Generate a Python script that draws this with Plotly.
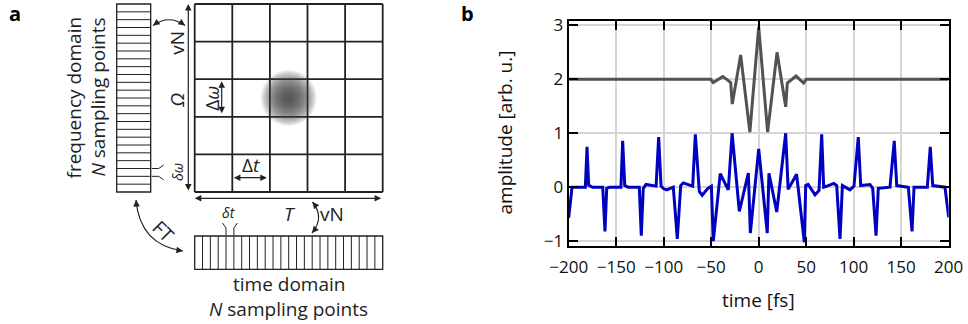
import numpy as np
import plotly.graph_objects as go

# ---------------- data for panel b ----------------
# reference pulse (offset by +2)
pulse_t = [-200, -50.5, -47.8, -37.9, -33.0, -29.5, -27.8, -19.0, -9.3, 0.0,
           9.4, 19.3, 28.4, 30.1, 39.3, 47.3, 50.0, 200]
pulse_amp = [2.0, 2.0, 1.94, 2.05, 1.99, 1.94, 1.54, 2.45, 1.02, 2.97,
             1.02, 2.50, 1.49, 1.93, 2.06, 1.93, 2.0, 2.0]

# aliased signal
aliased_t = [-200, -196.5, -182.5, -180.7, -179.0, -175.0, -164.2, -161.8, -160.0, -157.0,
             -145.0, -143.2, -141.0, -137.5, -125.7, -123.6, -121.5, -118.6, -108.0, -105.3,
             -102.8, -100.0, -96.8, -89.9, -85.7, -82.1, -79.4, -75.0, -69.5, -66.7,
             -62.5, -59.5, -53.5, -49.8, -47.8, -40.5, -32.0, -28.0, -20.4, -10.9,
             -8.8, 0.0, 9.0, 10.8, 19.0, 28.4, 31.0, 39.9, 48.0, 49.5,
             52.0, 59.3, 63.5, 66.3, 68.4, 73.3, 79.0, 82.1, 85.6, 88.1,
             96.1, 100.3, 104.8, 107.4, 117.2, 120.0, 123.5, 125.9, 138.2, 142.7,
             145.3, 157.5, 161.4, 163.5, 177.5, 180.6, 183.2, 196.1, 200]
aliased_amp = [-0.57, 0.0, 0.0, 0.75, 0.04, 0.0, 0.0, -0.82, -0.02, 0.0,
               0.0, 0.86, 0.03, 0.0, 0.0, -0.90, -0.02, 0.05, 0.02, 0.93,
               0.02, -0.03, -0.05, 0.0, -0.96, 0.03, 0.08, 0.05, 0.02, 0.98,
               -0.08, -0.15, -0.02, 0.02, -1.0, 0.25, -0.05, 1.0, -0.45, 0.26,
               -0.85, 0.71, -0.85, 0.26, -0.46, 1.0, -0.04, 0.24, -1.02, 0.03,
               0.05, -0.14, -0.06, 0.98, 0.0, 0.03, 0.07, 0.03, -0.96, 0.03,
               -0.05, 0.02, 0.93, 0.03, 0.05, -0.02, -0.90, -0.02, 0.0, 0.86,
               0.03, 0.0, -0.82, 0.0, 0.0, 0.75, 0.03, 0.0, -0.56]

x_ticks = [-200, -150, -100, -50, 0, 50, 100, 150, 200]
y_ticks = [-1, 0, 1, 2, 3]

# ---------------- page geometry ----------------
W, H = 968, 324
FONT = "Open Sans"
INK = "#222222"


def px(x):
    return x / W


def py(y):
    return 1 - y / H


fig = go.Figure()

fig.add_trace(go.Scatter(x=aliased_t, y=aliased_amp, mode="lines",
                         line=dict(color="#0000c0", width=3), xaxis="x", yaxis="y",
                         hoverinfo="skip", showlegend=False))
fig.add_trace(go.Scatter(x=pulse_t, y=pulse_amp, mode="lines",
                         line=dict(color="#525252", width=3), xaxis="x", yaxis="y",
                         hoverinfo="skip", showlegend=False))

axis_common = dict(showline=True, linecolor="black", linewidth=2, mirror="ticks",
                   ticks="inside", ticklen=9, tickwidth=1.5, tickcolor="black",
                   showgrid=True, gridcolor="#d6d6d6", gridwidth=1.5, zeroline=False,
                   automargin=False,
                   tickfont=dict(family=FONT, size=17, color="#111111"), fixedrange=True)

fig.update_layout(
    width=W, height=H, margin=dict(l=0, r=0, t=0, b=0, pad=0, autoexpand=False),
    autosize=False,
    paper_bgcolor="white", plot_bgcolor="rgba(0,0,0,0)",
    xaxis=dict(domain=[px(568.7), px(948.7)], range=[-200, 200], tickvals=x_ticks,
               anchor="y", ticklabelstandoff=5, **axis_common),
    yaxis=dict(domain=[py(246), py(20.5)], range=[-1.09, 3.09], tickvals=y_ticks,
               anchor="x", **axis_common),
    # schematic canvas for panel a, in page pixel units
    xaxis2=dict(domain=[0, px(460)], range=[0, 460], visible=False, fixedrange=True,
                automargin=False, anchor="y2"),
    yaxis2=dict(domain=[0, 1], range=[H, 0], visible=False, fixedrange=True,
                automargin=False, anchor="x2"),
)


def page_text(text, x, y, size, angle=0, color="#111111"):
    fig.add_annotation(text=text, x=px(x), y=py(y), xref="paper", yref="paper",
                       xanchor="center", yanchor="middle", showarrow=False,
                       textangle=angle, font=dict(family=FONT, size=size, color=color))


# axis titles and panel letters
page_text("time [fs]", 758.7, 300, 19)
page_text("amplitude [arb. u.]", 505, 132.5, 19, angle=-90)
page_text("<b>a</b>", 15, 14, 20, color="black")
page_text("<b>b</b>", 467, 14, 20, color="black")

# ---------------- panel a schematic ----------------
GRID_X0, GRID_Y0 = 194.7, 4.0
CELL = 37.6
N_CELLS = 5
GRID_X1 = GRID_X0 + N_CELLS * CELL
GRID_Y1 = GRID_Y0 + N_CELLS * CELL
N_STRIPES = 24
FREQ_X0, FREQ_X1 = 116.7, 150.7
TIME_Y0, TIME_Y1 = 236.0, 269.3
STRIPE_F = (GRID_Y1 - GRID_Y0) / N_STRIPES
STRIPE_T = (GRID_X1 - GRID_X0) / N_STRIPES


def seg(x0, y0, x1, y1, width=1.0, color=INK):
    fig.add_shape(type="line", x0=x0, y0=y0, x1=x1, y1=y1, xref="x2", yref="y2",
                  line=dict(color=color, width=width))


def path(d, width=1.2, color=INK):
    fig.add_shape(type="path", path=d, xref="x2", yref="y2",
                  line=dict(color=color, width=width))


def arrow(x, y, ax, ay, both=False):
    fig.add_annotation(x=x, y=y, ax=ax, ay=ay, xref="x2", yref="y2", axref="x2",
                       ayref="y2", text="", showarrow=True, arrowhead=2, arrowsize=1.1,
                       arrowwidth=1.2, arrowcolor=INK,
                       arrowside="end+start" if both else "end",
                       standoff=0, startstandoff=0)


def curved_arrow(p0, c, p1):
    path(f"M {p0[0]},{p0[1]} Q {c[0]},{c[1]} {p1[0]},{p1[1]}")
    for end in (p0, p1):
        d = np.array(c, float) - np.array(end, float)
        d = d / np.hypot(*d) * 4
        arrow(end[0], end[1], end[0] + d[0], end[1] + d[1])


def label(text, x, y, size=19, angle=0):
    fig.add_annotation(text=text, x=x, y=y, xref="x2", yref="y2", showarrow=False,
                       xanchor="center", yanchor="middle",
                       textangle=angle, font=dict(family=FONT, size=size, color=INK))


# time-frequency grid
for k in range(N_CELLS + 1):
    seg(GRID_X0 + k * CELL, GRID_Y0, GRID_X0 + k * CELL, GRID_Y1, width=1.8)
    seg(GRID_X0, GRID_Y0 + k * CELL, GRID_X1, GRID_Y0 + k * CELL, width=1.8)

# Gaussian-like wave packet in the central cell
cx = GRID_X0 + 2.5 * CELL
cy = GRID_Y0 + 2.5 * CELL
R = 28.0
N_RINGS = 24
for i in range(N_RINGS):
    r = R * (1 - i / N_RINGS)
    fig.add_shape(type="circle", x0=cx - r, x1=cx + r, y0=cy - r, y1=cy + r,
                  xref="x2", yref="y2", line=dict(width=0),
                  fillcolor="rgba(70,70,70,0.085)")

# frequency-domain sampling column
fig.add_shape(type="rect", x0=FREQ_X0, x1=FREQ_X1, y0=GRID_Y0, y1=GRID_Y1,
              xref="x2", yref="y2", line=dict(color=INK, width=1.3))
for k in range(1, N_STRIPES):
    seg(FREQ_X0, GRID_Y0 + k * STRIPE_F, FREQ_X1, GRID_Y0 + k * STRIPE_F, width=1.0)

# time-domain sampling row
fig.add_shape(type="rect", x0=GRID_X0, x1=GRID_X1, y0=TIME_Y0, y1=TIME_Y1,
              xref="x2", yref="y2", line=dict(color=INK, width=1.3))
for k in range(1, N_STRIPES):
    seg(GRID_X0 + k * STRIPE_T, TIME_Y0, GRID_X0 + k * STRIPE_T, TIME_Y1, width=1.0)

# spans: Omega (vertical) and T (horizontal)
arrow(188.3, GRID_Y0, 188.3, GRID_Y1, both=True)
arrow(GRID_X0, 198.3, GRID_X1, 198.3, both=True)
# cell size arrows
arrow(221.7, GRID_Y0 + 2 * CELL + 2, 221.7, GRID_Y0 + 3 * CELL - 2, both=True)
arrow(GRID_X0 + CELL + 1.5, 177.7, GRID_X0 + 2 * CELL - 1.5, 177.7, both=True)

# curved arrows
curved_arrow((153, 25.5), (169, 14), (185, 25.5))
curved_arrow((312.5, 202), (325, 217.5), (312, 233))
curved_arrow((136, 200), (140, 245), (183, 251))

# delta-t markers on the time row
bt0 = GRID_X0 + 4 * STRIPE_T
bt1 = GRID_X0 + 5 * STRIPE_T
path(f"M {bt0},{TIME_Y0 - 1} L {bt0},{TIME_Y0 - 8} L {bt0 - 3.5},{TIME_Y0 - 13}", width=1.0)
path(f"M {bt1},{TIME_Y0 - 1} L {bt1},{TIME_Y0 - 8} L {bt1 + 3.5},{TIME_Y0 - 13}", width=1.0)

# delta-omega markers on the frequency column
bf0 = GRID_Y0 + 21 * STRIPE_F
bf1 = GRID_Y0 + 22 * STRIPE_F
path(f"M {FREQ_X1 + 1},{bf0} L {FREQ_X1 + 8},{bf0} L {FREQ_X1 + 13},{bf0 - 3.5}", width=1.0)
path(f"M {FREQ_X1 + 1},{bf1} L {FREQ_X1 + 8},{bf1} L {FREQ_X1 + 13},{bf1 + 3.5}", width=1.0)

# text of the schematic
label("frequency domain", 73, 97.5, angle=-90)
label("<i>N</i> sampling points", 97, 97.5, angle=-90)
label("vN", 176.7, 43, angle=-90)
label("<i>Ω</i>", 176.7, 100, angle=-90)
label("<i>δω</i>", 177, 172, size=14, angle=-90)
label("Δ<i>ω</i>", 211.7, 98, angle=-90)
label("Δ<i>t</i>", 250.7, 165)
label("<i>δt</i>", 229, 212, size=14)
label("<i>T</i>", 290, 214)
label("vN", 331.7, 214)
label("time domain", (GRID_X0 + GRID_X1) / 2, 283.5)
label("<i>N</i> sampling points", (GRID_X0 + GRID_X1) / 2, 308.5)
label("FT", 163, 231, angle=45)

fig.write_html("out.html")
